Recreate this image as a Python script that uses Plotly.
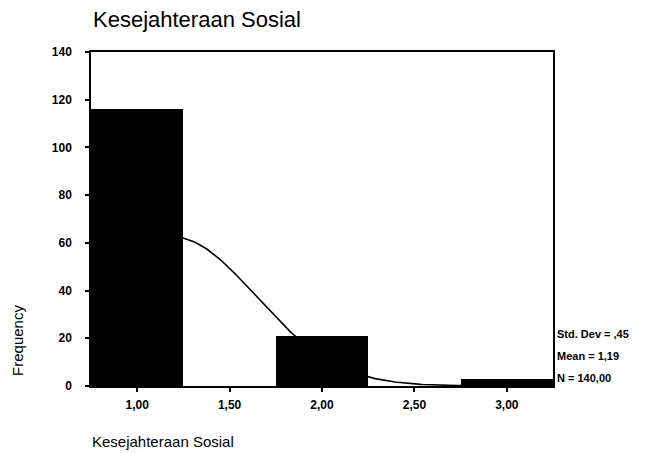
import numpy as np
import plotly.graph_objects as go

# histogram bins (midpoints) and frequencies
bin_mid = [1.0, 1.5, 2.0, 2.5, 3.0]
freq = [116, 0, 21, 0, 3]
bin_width = 0.5

x_ticks = [1.0, 1.5, 2.0, 2.5, 3.0]
x_tick_labels = ["1,00", "1,50", "2,00", "2,50", "3,00"]
y_ticks = [0, 20, 40, 60, 80, 100, 120, 140]

stats_lines = ["Std. Dev = ,45", "Mean = 1,19", "N = 140,00"]

FONT = "Liberation Sans, Arial, sans-serif"

# normal curve fitted to the histogram (as SPSS draws it)
vals = np.repeat(bin_mid, freq)
mean = vals.mean()
sd = vals.std(ddof=1)
xc = np.linspace(0.75, 3.25, 200)
yc = len(vals) * bin_width * np.exp(-0.5 * ((xc - mean) / sd) ** 2) / (sd * np.sqrt(2 * np.pi))

fig = go.Figure()
fig.add_trace(go.Scatter(
    x=xc, y=yc, mode="lines",
    line=dict(color="black", width=1.6),
    hoverinfo="skip",
))
fig.add_trace(go.Bar(
    x=bin_mid, y=freq, width=bin_width,
    marker=dict(color="black", line=dict(width=0)),
))

fig.add_annotation(
    text="Frequency", textangle=-90,
    x=-0.158, y=0.135, xref="paper", yref="paper",
    xanchor="center", yanchor="middle", showarrow=False,
    font=dict(family=FONT, size=15, color="black"),
)
fig.add_annotation(
    text="Kesejahteraan Sosial",
    x=-0.003, y=-0.165, xref="paper", yref="paper",
    xanchor="left", yanchor="middle", showarrow=False,
    font=dict(family=FONT, size=15, color="black"),
)
for i, line in enumerate(stats_lines):
    fig.add_annotation(
        text=line, x=1.004, y=0.156 - i * 0.066,
        xref="paper", yref="paper",
        xanchor="left", yanchor="middle", showarrow=False,
        font=dict(family=FONT, size=11, color="black", weight="bold"),
    )

# page body has an 8px margin, so the figure is sized and offset for it
fig.update_layout(
    width=640, height=445,
    margin=dict(l=83, r=95, t=44, b=67),
    title=dict(text="Kesejahteraan Sosial", x=85 / 640, xanchor="left",
               y=1 - 11 / 445, yanchor="middle",
               font=dict(family=FONT, size=22, color="black")),
    showlegend=False,
    bargap=0,
    plot_bgcolor="white",
    paper_bgcolor="white",
    font=dict(family=FONT, color="black"),
)
fig.update_xaxes(
    range=[0.75, 3.25], tickvals=x_ticks, ticktext=x_tick_labels,
    showgrid=False, zeroline=False,
    showline=True, linecolor="black", linewidth=1.5, mirror=True,
    ticks="outside", ticklen=4, tickcolor="black", tickwidth=2,
    ticklabelstandoff=3,
    tickfont=dict(family=FONT, size=12, color="black", weight="bold"),
)
fig.update_yaxes(
    range=[0, 140], tickvals=y_ticks,
    showgrid=False, zeroline=False,
    showline=True, linecolor="black", linewidth=1.5, mirror=True,
    ticks="outside", ticklen=4, tickcolor="black", tickwidth=2,
    ticklabelstandoff=11,
    tickfont=dict(family=FONT, size=12, color="black", weight="bold"),
)

fig.write_html("out.html")
